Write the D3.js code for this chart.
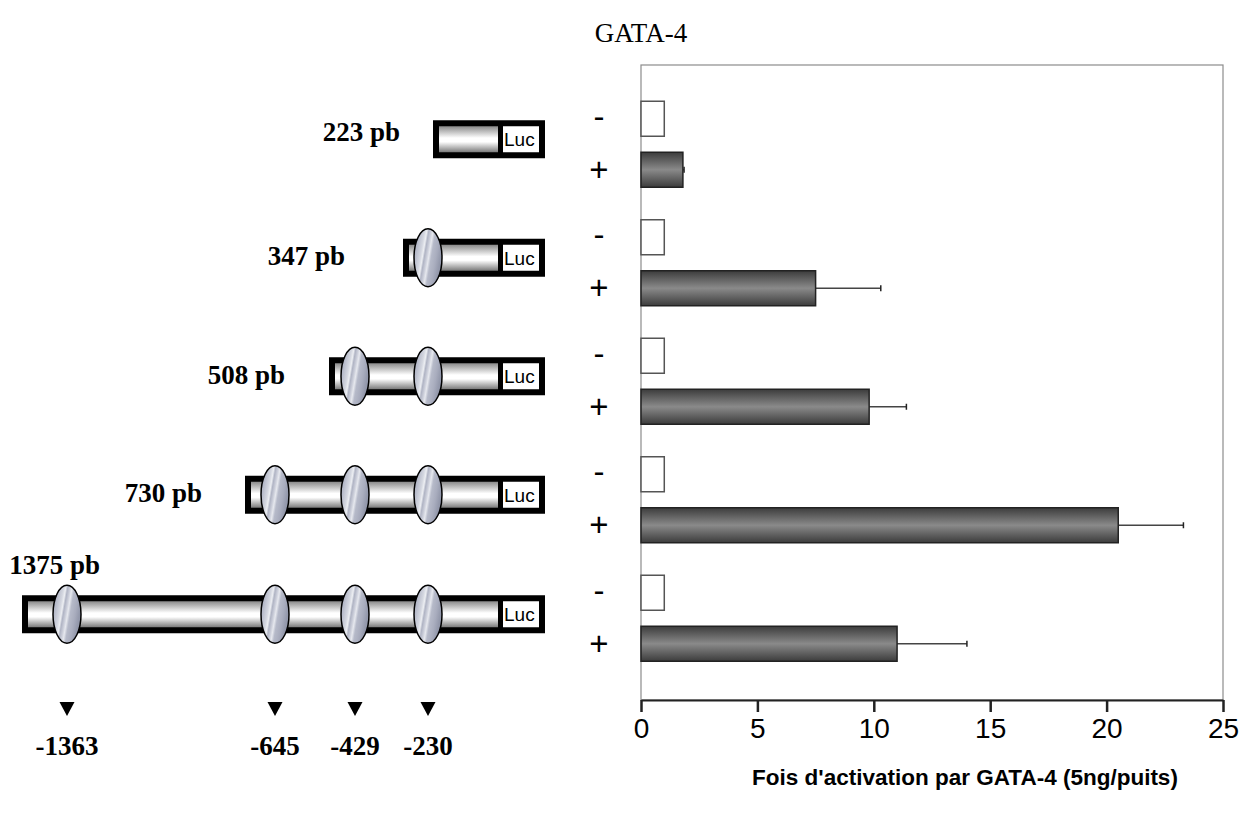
<!DOCTYPE html>
<html>
<head>
<meta charset="utf-8">
<script src="https://cdn.jsdelivr.net/npm/d3@7"></script>
<style>
  body { margin: 0; background: #fff; }
  svg { display: block; }
</style>
</head>
<body>
<script>
// data
const constructs = ["223 pb", "347 pb", "508 pb", "730 pb", "1375 pb"];
const lengths = [223, 347, 508, 730, 1375];
const sites = [1363, 645, 429, 230];
const siteLabels = ["-1363", "-645", "-429", "-230"];
const treatments = ["-", "+"];
const minusValues = [1, 1, 1, 1, 1];
const plusValues = [1.8, 7.5, 9.8, 20.5, 11.0];
const plusErrors = [0.05, 2.8, 1.6, 2.8, 3.0];
const xTicks = [0, 5, 10, 15, 20, 25];

const width = 1249;
const height = 821;
const serif = "'Liberation Serif', 'Times New Roman', serif";
const sans = "'Liberation Sans', Arial, sans-serif";

const svg = d3.select("body").append("svg")
  .attr("width", width)
  .attr("height", height);

const defs = svg.append("defs");

// cylinder shading for promoter
const cyl = defs.append("linearGradient").attr("id", "cyl")
  .attr("x1", 0).attr("y1", 0).attr("x2", 0).attr("y2", 1);
[[0, "#8a8a8a"], [0.45, "#ffffff"], [0.6, "#ffffff"], [1, "#7a7a7a"]]
  .forEach(s => cyl.append("stop").attr("offset", s[0]).attr("stop-color", s[1]));

// dark bar shading
const dark = defs.append("linearGradient").attr("id", "dark")
  .attr("x1", 0).attr("y1", 0).attr("x2", 0).attr("y2", 1);
[[0, "#3c3c3c"], [0.5, "#8a8a8a"], [1, "#3c3c3c"]]
  .forEach(s => dark.append("stop").attr("offset", s[0]).attr("stop-color", s[1]));

// GATA site ellipse with diagonal streaks
const site = defs.append("linearGradient").attr("id", "site")
  .attr("x1", 0).attr("y1", 0).attr("x2", 1).attr("y2", 0.35);
[[0, "#9a9fb2"], [0.2, "#b8bccb"], [0.35, "#d4d7e0"], [0.42, "#eceef2"], [0.48, "#b0b4c4"],
 [0.55, "#c9ccd8"], [0.62, "#e6e8ee"], [0.7, "#b6bac9"], [0.85, "#a9adbe"], [1, "#9398ab"]]
  .forEach(s => site.append("stop").attr("offset", s[0]).attr("stop-color", s[1]));

// title
svg.append("text")
  .attr("x", 641).attr("y", 42)
  .attr("text-anchor", "middle")
  .style("font-family", serif)
  .style("font-size", "27px")
  .text("GATA-4");

// ---------- bar chart ----------
const plotLeft = 641, plotRight = 1223, plotTop = 65, plotBottom = 700;

const x = d3.scaleLinear().domain([0, 25]).range([plotLeft, plotRight]);
const y = d3.scaleBand().domain(constructs).range([80, 80 + 5 * 118.5]);
const ySub = d3.scaleBand().domain(treatments).range([-38, 48]).paddingInner(16 / 51);

// frame
svg.append("rect")
  .attr("x", plotLeft).attr("y", plotTop)
  .attr("width", plotRight - plotLeft).attr("height", plotBottom - plotTop)
  .attr("fill", "none").attr("stroke", "#8c8c8c").attr("stroke-width", 1.2);

const xAxis = d3.axisBottom(x).tickValues(xTicks).tickSize(12).tickPadding(6).tickSizeOuter(0);
const gx = svg.append("g")
  .attr("transform", "translate(0," + plotBottom + ")")
  .call(xAxis);
gx.select(".domain").attr("stroke", "#222").attr("stroke-width", 2);
gx.selectAll(".tick line").attr("stroke", "#222").attr("stroke-width", 2.5);
gx.selectAll(".tick text")
  .style("font-family", sans)
  .style("font-size", "28px")
  .attr("fill", "#000");

svg.append("text")
  .attr("x", 965).attr("y", 785)
  .attr("text-anchor", "middle")
  .style("font-family", sans)
  .style("font-size", "22.5px")
  .style("font-weight", "bold")
  .text("Fois d'activation par GATA-4 (5ng/puits)");

const groups = svg.selectAll("g.grp")
  .data(constructs)
  .enter().append("g")
  .attr("class", "grp")
  .attr("transform", d => "translate(0," + (y(d) + y.bandwidth() / 2) + ")");

// -/+ labels
groups.selectAll("text.trt")
  .data(treatments)
  .enter().append("text")
  .attr("class", "trt")
  .attr("x", 599)
  .attr("y", t => ySub(t) + ySub.bandwidth() / 2 + (t === "+" ? 11 : 9))
  .attr("text-anchor", "middle")
  .style("font-family", sans)
  .style("font-size", "33px")
  .style("font-weight", "300")
  .text(t => t);

groups.append("rect")
  .attr("x", x(0))
  .attr("y", ySub("-"))
  .attr("width", (d, i) => x(minusValues[i]) - x(0))
  .attr("height", ySub.bandwidth())
  .attr("fill", "#fff")
  .attr("stroke", "#555")
  .attr("stroke-width", 1.5);

groups.append("line")
  .attr("x1", (d, i) => x(plusValues[i]))
  .attr("x2", (d, i) => x(plusValues[i] + plusErrors[i]))
  .attr("y1", ySub("+") + ySub.bandwidth() / 2)
  .attr("y2", ySub("+") + ySub.bandwidth() / 2)
  .attr("stroke", "#444").attr("stroke-width", 1.3);
groups.append("line")
  .attr("x1", (d, i) => x(plusValues[i] + plusErrors[i]))
  .attr("x2", (d, i) => x(plusValues[i] + plusErrors[i]))
  .attr("y1", ySub("+") + ySub.bandwidth() / 2 - 3)
  .attr("y2", ySub("+") + ySub.bandwidth() / 2 + 3)
  .attr("stroke", "#222").attr("stroke-width", 1.5);

groups.append("rect")
  .attr("x", x(0))
  .attr("y", ySub("+"))
  .attr("width", (d, i) => x(plusValues[i]) - x(0))
  .attr("height", ySub.bandwidth())
  .attr("fill", "url(#dark)")
  .attr("stroke", "#222")
  .attr("stroke-width", 1.5);

// ---------- promoter constructs ----------
// schematic (not to scale) position of bp upstream of Luc
const bp = d3.scaleLinear()
  .domain([0, 223, 230, 347, 429, 508, 645, 730, 1363, 1375])
  .range([498, 433, 428, 403, 355, 329, 275, 245, 67, 22]);
const lucRight = 545, lucGap = 5;
const labelEnds = [400, 345, 285, 202, 100];
const labelDy = [2, 7, 8, 7, -40];

const cons = svg.selectAll("g.cons")
  .data(constructs)
  .enter().append("g")
  .attr("class", "cons")
  .attr("transform", (d, i) => "translate(0," + (y(d) + y.bandwidth() / 2 - (i === 4 ? -1 : 0)) + ")");

cons.append("rect")
  .attr("x", (d, i) => bp(lengths[i]))
  .attr("y", -19)
  .attr("width", (d, i) => lucRight - bp(lengths[i]))
  .attr("height", 38)
  .attr("fill", "#000");
cons.append("rect")
  .attr("x", (d, i) => bp(lengths[i]) + 6)
  .attr("y", -13)
  .attr("width", (d, i) => bp(0) - bp(lengths[i]) - 6)
  .attr("height", 26)
  .attr("fill", "url(#cyl)");
cons.append("rect")
  .attr("x", bp(0) + lucGap)
  .attr("y", -13)
  .attr("width", lucRight - 6 - bp(0) - lucGap)
  .attr("height", 26)
  .attr("fill", "#fff");
cons.append("text")
  .attr("x", bp(0) + lucGap + 1)
  .attr("y", 7)
  .style("font-family", sans)
  .style("font-size", "19px")
  .text("Luc");

cons.selectAll("ellipse")
  .data((d, i) => sites.filter(s => s <= lengths[i]))
  .enter().append("ellipse")
  .attr("cx", s => bp(s))
  .attr("cy", 0)
  .attr("rx", 14)
  .attr("ry", 29)
  .attr("fill", "url(#site)")
  .attr("stroke", "#000")
  .attr("stroke-width", 1.5);

cons.append("text")
  .attr("x", (d, i) => labelEnds[i])
  .attr("y", (d, i) => labelDy[i])
  .attr("text-anchor", "end")
  .style("font-family", serif)
  .style("font-size", "27px")
  .style("font-weight", "bold")
  .text(d => d);

// site markers
const marks = svg.selectAll("g.mark")
  .data(sites)
  .enter().append("g")
  .attr("class", "mark")
  .attr("transform", s => "translate(" + bp(s) + ",0)");
marks.append("path")
  .attr("d", "M-7.5,702 L7.5,702 L0,716 Z")
  .attr("fill", "#000");
marks.append("text")
  .attr("y", 755)
  .attr("text-anchor", "middle")
  .style("font-family", serif)
  .style("font-size", "27px")
  .style("font-weight", "bold")
  .text((s, i) => siteLabels[i]);
</script>
</body>
</html>
